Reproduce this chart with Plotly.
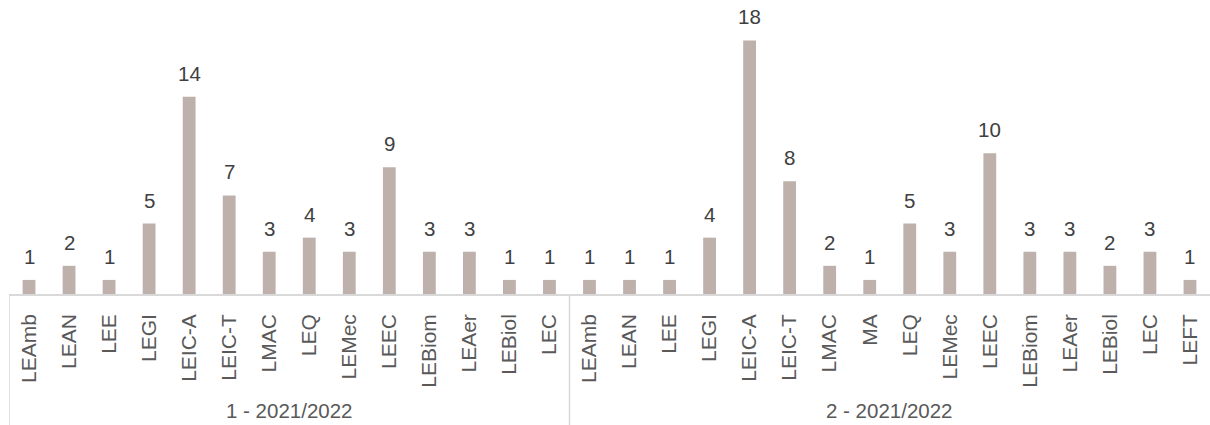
import plotly.graph_objects as go

groups = ["1 - 2021/2022", "2 - 2021/2022"]
cats_1 = ["LEAmb", "LEAN", "LEE", "LEGI", "LEIC-A", "LEIC-T", "LMAC", "LEQ",
          "LEMec", "LEEC", "LEBiom", "LEAer", "LEBiol", "LEC"]
vals_1 = [1, 2, 1, 5, 14, 7, 3, 4, 3, 9, 3, 3, 1, 1]
cats_2 = ["LEAmb", "LEAN", "LEE", "LEGI", "LEIC-A", "LEIC-T", "LMAC", "MA",
          "LEQ", "LEMec", "LEEC", "LEBiom", "LEAer", "LEBiol", "LEC", "LEFT"]
vals_2 = [1, 1, 1, 4, 18, 8, 2, 1, 5, 3, 10, 3, 3, 2, 3, 1]

inner = cats_1 + cats_2
vals = vals_1 + vals_2
xpos = list(range(len(inner)))

FONT = "Liberation Sans, Arial, sans-serif"
LINE = "#D9D9D9"

fig = go.Figure(go.Bar(
    x=xpos, y=vals, width=0.32,
    marker=dict(color="#BEB0AA", line=dict(width=0)),
    hoverinfo="x+y",
))

# data labels
for x, v in zip(xpos, vals):
    fig.add_annotation(x=x, y=v, xref="x", yref="y", text=str(v),
                       showarrow=False, yanchor="bottom", yshift=10,
                       font=dict(family=FONT, size=20.5, color="#404040"))

# group labels and dividers
plot_h = 425 - 131
bounds = [-0.5, len(cats_1) - 0.5, len(inner) - 0.5]
for i, g in enumerate(groups):
    fig.add_annotation(x=(bounds[i] + bounds[i + 1]) / 2, y=-(410 - plot_h) / plot_h,
                       xref="x", yref="paper", text=g, showarrow=False,
                       yanchor="middle",
                       font=dict(family=FONT, size=20.5, color="#595959"))
for b in bounds[:2]:
    fig.add_shape(type="line", xref="x", yref="paper", x0=b, x1=b,
                  y0=0, y1=-131 / plot_h, line=dict(color=LINE, width=1.5))

fig.update_layout(
    width=1210, height=425,
    margin=dict(l=9, r=0, t=0, b=131),
    plot_bgcolor="white", paper_bgcolor="white",
    showlegend=False,
    font=dict(family=FONT, size=20.5, color="#595959"),
    xaxis=dict(
        range=[-0.5, len(inner) - 0.5],
        tickmode="array", tickvals=xpos, ticktext=inner, tickangle=-90,
        showline=True, linecolor=LINE, linewidth=1.5,
        showgrid=False, zeroline=False, ticks="",
        ticklabelstandoff=10,
        tickfont=dict(family=FONT, size=21, color="#595959"),
    ),
    yaxis=dict(range=[0, 20.87], visible=False, showgrid=False, zeroline=False),
)

fig.write_html("out.html")
